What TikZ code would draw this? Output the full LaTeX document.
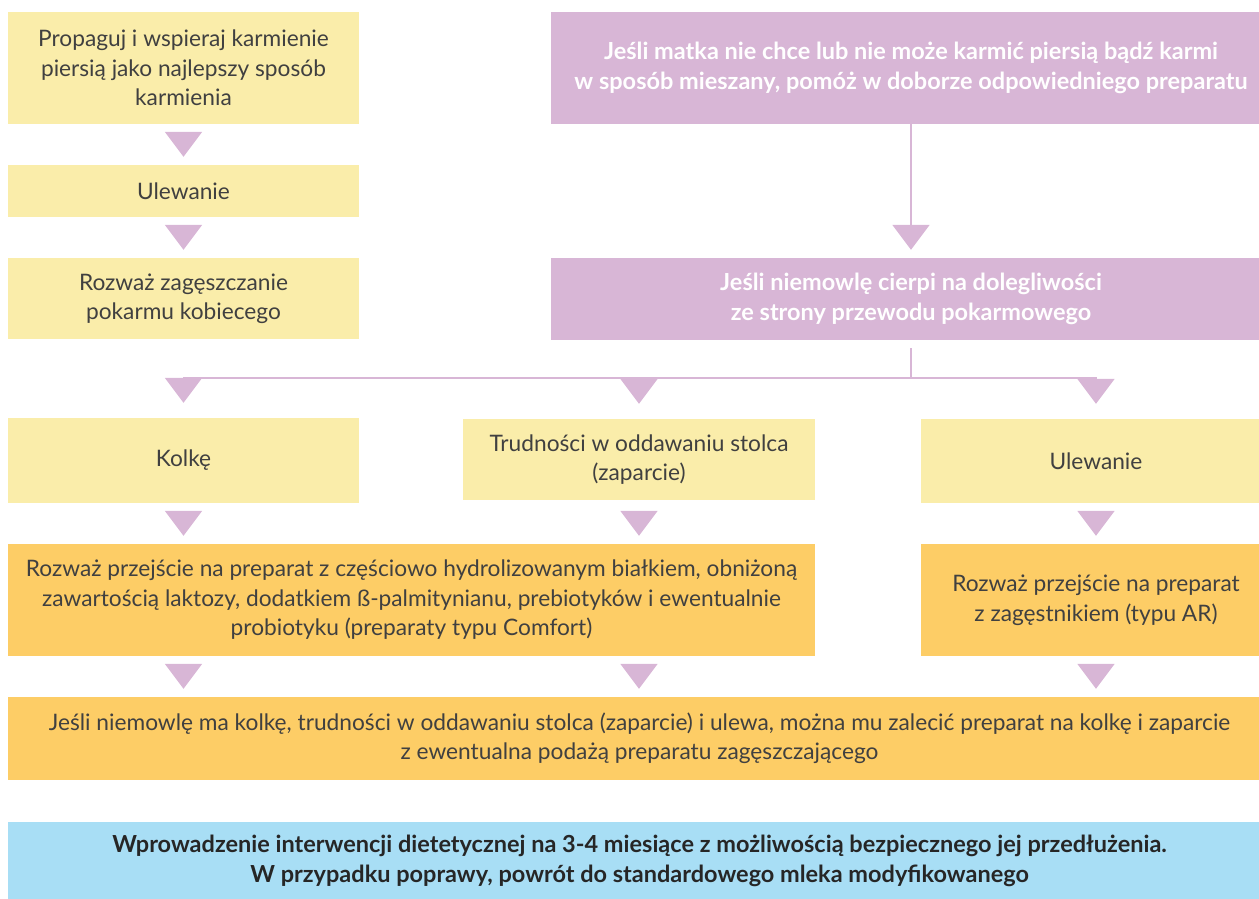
\documentclass[tikz,border=0pt]{standalone}
\usepackage{fontspec}
\setmainfont{Lato}
\usetikzlibrary{arrows.meta,positioning,calc}
\definecolor{yel}{HTML}{FAEDAA}
\definecolor{lila}{HTML}{D8B6D6}
\definecolor{ora}{HTML}{FDCD66}
\definecolor{sky}{HTML}{A8DEF5}
\definecolor{txt}{HTML}{404040}
\definecolor{dtxt}{HTML}{262626}

\begin{document}
\begin{tikzpicture}
[x=1pt, y=-1pt,
box/.style = {rectangle, align=center, inner sep=0pt, text=txt,
  font=\fontsize{22.7}{29.5}\selectfont},
ybox/.style = {box, fill=yel},
pbox/.style = {box, fill=lila, text=white,
  font=\fontsize{23.5}{29.5}\selectfont\bfseries},
obox/.style = {box, fill=ora},
bbox/.style = {box, fill=sky, text=dtxt,
  font=\fontsize{23.5}{29.5}\selectfont\bfseries},
lin/.style = {draw=lila, line width=2pt},
arr/.style = {lin, -{Triangle[length=25pt, width=37pt]}}]
\useasboundingbox (0,0) rectangle (1259,898);
\clip (0,0) rectangle (1259,898);

% left column
\node [ybox, minimum width=351pt, minimum height=112pt] (prop) at (183.5,68)
  {Propaguj i wspieraj karmienie\\piersią jako najlepszy sposób\\karmienia};
\node [ybox, minimum width=351pt, minimum height=52pt] (ulew1) at (183.5,191)
  {Ulewanie};
\node [ybox, minimum width=351pt, minimum height=81pt] (zag) at (183.5,298.5)
  {Rozważ zagęszczanie\\pokarmu kobiecego};

% right column
\node [pbox, minimum width=720pt, minimum height=112pt] (matka) at (911,68)
  {Jeśli matka nie chce lub nie może karmić piersią bądź karmi\\w sposób mieszany, pomóż w doborze odpowiedniego preparatu};
\node [pbox, minimum width=720pt, minimum height=82pt] (dolegl) at (911,299)
  {Jeśli niemowlę cierpi na dolegliwości\\ze strony przewodu pokarmowego};

% symptoms
\node [ybox, minimum width=351pt, minimum height=85pt] (kolka) at (183.5,460.5)
  {Kolkę};
\node [ybox, minimum width=352pt, minimum height=81pt] (zaparcie) at (639,459.5)
  {Trudności w oddawaniu stolca\\(zaparcie)};
\node [ybox, minimum width=350pt, minimum height=84pt] (ulew2) at (1096,461)
  {Ulewanie};

% formulas
\node [obox, minimum width=807pt, minimum height=112pt] (comfort) at (411.5,600)
  {Rozważ przejście na preparat z częściowo hydrolizowanym białkiem, obniżoną\\zawartością laktozy, dodatkiem ß-palmitynianu, prebiotyków i ewentualnie\\probiotyku (preparaty typu Comfort)};
\node [obox, minimum width=350pt, minimum height=112pt] (ar) at (1096,600)
  {Rozważ przejście na preparat\\z zagęstnikiem (typu AR)};
\node [obox, minimum width=1263pt, minimum height=83pt] (razem) at (639.5,738.5)
  {Jeśli niemowlę ma kolkę, trudności w oddawaniu stolca (zaparcie) i ulewa, można mu zalecić preparat na kolkę i zaparcie\\z ewentualna podażą preparatu zagęszczającego};

\node [bbox, minimum width=1263pt, minimum height=78pt] (interw) at (639.5,861)
  {Wprowadzenie interwencji dietetycznej na 3-4 miesiące z możliwością bezpiecznego jej przedłużenia.\\W przypadku poprawy, powrót do standardowego mleka modyfikowanego};

\coordinate (j) at (911,378);

\draw[arr, shorten <=8pt, shorten >=8pt] (prop) -- (ulew1);
\draw[arr, shorten <=8pt, shorten >=8pt] (ulew1) -- (zag);
\draw[arr, shorten >=8pt] (matka) -- (dolegl);
\draw[lin, shorten <=8pt] (dolegl) -- (j);
\draw[arr, shorten >=15pt] (j) -| (kolka.north);
\draw[arr, shorten >=15pt] (j) -| (zaparcie.north);
\draw[arr, shorten >=15pt] (j) -| (ulew2.north);

\draw[arr, shorten <=8pt, shorten >=8pt] (kolka.south) -- (kolka |- comfort.north);
\draw[arr, shorten <=11pt, shorten >=8pt] (zaparcie.south) -- (zaparcie |- comfort.north);
\draw[arr, shorten <=8pt, shorten >=8pt] (ulew2) -- (ar);

\draw[arr, shorten <=8pt, shorten >=8pt] (kolka |- comfort.south) -- (kolka |- razem.north);
\draw[arr, shorten <=8pt, shorten >=8pt] (zaparcie |- comfort.south) -- (zaparcie |- razem.north);
\draw[arr, shorten <=8pt, shorten >=8pt] (ar) -- (ar |- razem.north);

\end{tikzpicture}
\end{document}
